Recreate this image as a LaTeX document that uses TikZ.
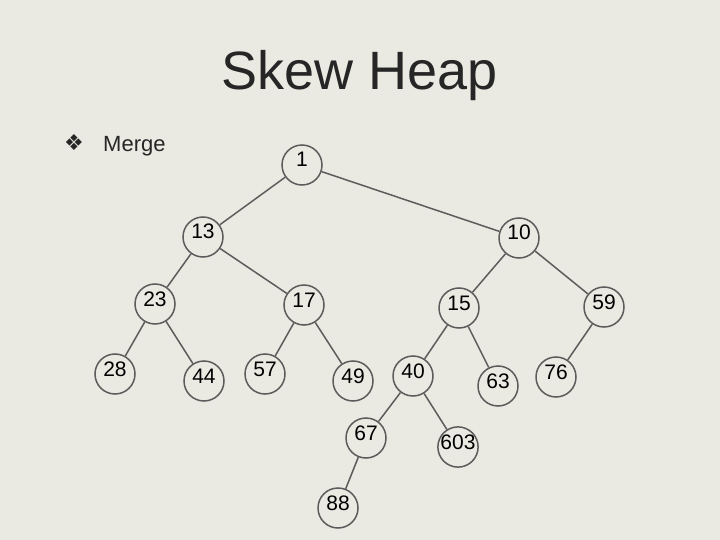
\documentclass[tikz,border=0pt]{standalone}
\usepackage{fontspec}
\setmainfont{Liberation Sans}
\newfontfamily\dingfont{DejaVu Sans}
\definecolor{slidebg}{RGB}{234,234,226}
\definecolor{edgegray}{RGB}{92,92,92}
\definecolor{textdark}{RGB}{38,38,38}

\begin{document}
\begin{tikzpicture}[x=1pt,y=-1pt,
        heapnode/.style={circle,draw=edgegray,line width=1.5pt,minimum size=40pt,inner sep=0pt,
            font=\fontsize{21}{21}\selectfont,text height=12pt,text depth=8pt},
        heapedge/.style={edgegray,line width=1.5pt}]
        \fill [slidebg] (0,0) rectangle (720,540);
        \node [anchor=base,textdark,font=\fontsize{54}{54}\selectfont] (title) at (360,90) {Skew Heap};
        \node [anchor=center,textdark,font=\dingfont\fontsize{22}{22}\selectfont] (bullet) at (74,143) {❖};
        \node [anchor=base west,textdark,font=\fontsize{22}{22}\selectfont,inner sep=0pt] (merge) at (103,152) {Merge};
        % heap nodes
        \node [heapnode] (n1) at (302,165) {1};
        \node [heapnode] (n13) at (203,237) {13};
        \node [heapnode] (n10) at (519,238) {10};
        \node [heapnode] (n23) at (155,304) {23};
        \node [heapnode] (n17) at (304,305) {17};
        \node [heapnode] (n15) at (459,308) {15};
        \node [heapnode] (n59) at (604,307) {59};
        \node [heapnode] (n28) at (115,374) {28};
        \node [heapnode] (n44) at (204,381) {44};
        \node [heapnode] (n57) at (265,374) {57};
        \node [heapnode] (n49) at (353,381) {49};
        \node [heapnode] (n40) at (413,376) {40};
        \node [heapnode] (n63) at (498,386) {63};
        \node [heapnode] (n76) at (556,377) {76};
        \node [heapnode] (n67) at (366,438) {67};
        \node [heapnode] (n603) at (458,447) {603};
        \node [heapnode] (n88) at (338,508) {88};
        % edges
        \draw [heapedge] (n1) -- (n13);
        \draw [heapedge] (n1) -- (n10);
        \draw [heapedge] (n13) -- (n23);
        \draw [heapedge] (n13) -- (n17);
        \draw [heapedge] (n10) -- (n15);
        \draw [heapedge] (n10) -- (n59);
        \draw [heapedge] (n23) -- (n28);
        \draw [heapedge] (n23) -- (n44);
        \draw [heapedge] (n17) -- (n57);
        \draw [heapedge] (n17) -- (n49);
        \draw [heapedge] (n15) -- (n40);
        \draw [heapedge] (n15) -- (n63);
        \draw [heapedge] (n59) -- (n76);
        \draw [heapedge] (n40) -- (n67);
        \draw [heapedge] (n40) -- (n603);
        \draw [heapedge] (n67) -- (n88);
    \end{tikzpicture}
\end{document}
